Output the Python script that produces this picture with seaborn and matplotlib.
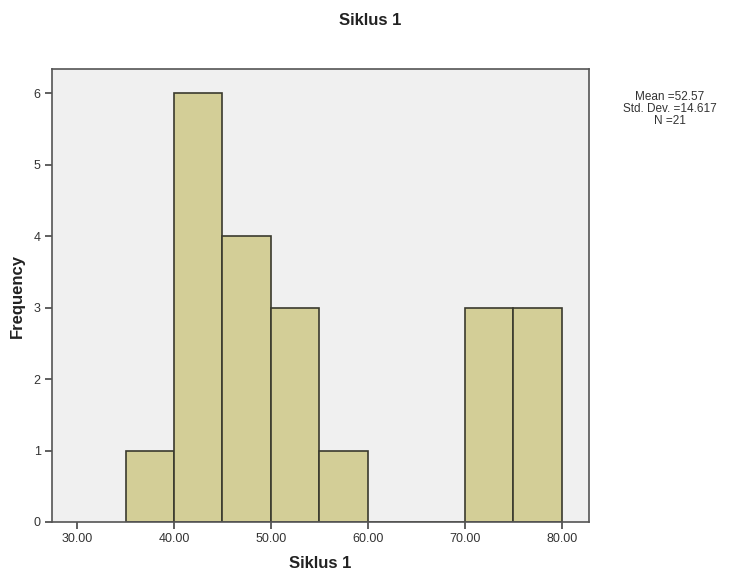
import matplotlib
matplotlib.use("Agg")
import matplotlib.pyplot as plt
import numpy as np
import seaborn as sns

# histogram bins (5-wide)
bin_edges = [35, 40, 45, 50, 55, 60, 65, 70, 75, 80]
bin_counts = [1, 6, 4, 3, 1, 0, 0, 3, 3]
x_ticks = [30, 40, 50, 60, 70, 80]
y_ticks = [0, 1, 2, 3, 4, 5, 6]
stats_text = "Mean =52.57\nStd. Dev. =14.617\nN =21"

sns.set_style("white")
plt.rcParams["font.family"] = ["Liberation Sans", "DejaVu Sans"]

fig = plt.figure(figsize=(7.4, 5.8), dpi=100)
ax = fig.add_axes([0.070, 0.100, 0.726, 0.781])
ax.set_facecolor("#F0F0F0")

centers = [(a + b) / 2 for a, b in zip(bin_edges[:-1], bin_edges[1:])]
sns.histplot(x=centers, weights=bin_counts, bins=bin_edges, ax=ax,
             color="#D3CE97", edgecolor="#3A3A2E", linewidth=1.2, alpha=1.0)

ax.set_xlim(27.4, 82.8)
ax.set_ylim(0, 6.34)
ax.set_xticks(x_ticks)
ax.set_xticklabels([f"{t:.2f}" for t in x_ticks], fontsize=9, color="#333333")
ax.set_yticks(y_ticks)
ax.set_yticklabels([str(t) for t in y_ticks], fontsize=9, color="#333333")
ax.tick_params(axis="both", direction="out", length=5, width=1.2, color="#444444", pad=3)
ax.tick_params(left=True, bottom=True)

for s in ax.spines.values():
    s.set_color("#555555")
    s.set_linewidth(1.2)

ax.set_xlabel("Siklus 1", fontsize=12, fontweight="bold", color="#222222", labelpad=8)
ax.set_ylabel("Frequency", fontsize=12, fontweight="bold", color="#222222", labelpad=6)

fig.text(0.5, 0.965, "Siklus 1", ha="center", va="center", fontsize=12, fontweight="bold", color="#222222")
fig.text(0.905, 0.812, stats_text, ha="center", va="center", fontsize=8.5, color="#333333", linespacing=1.0)

fig.savefig("out.png", dpi=100, facecolor="white")
